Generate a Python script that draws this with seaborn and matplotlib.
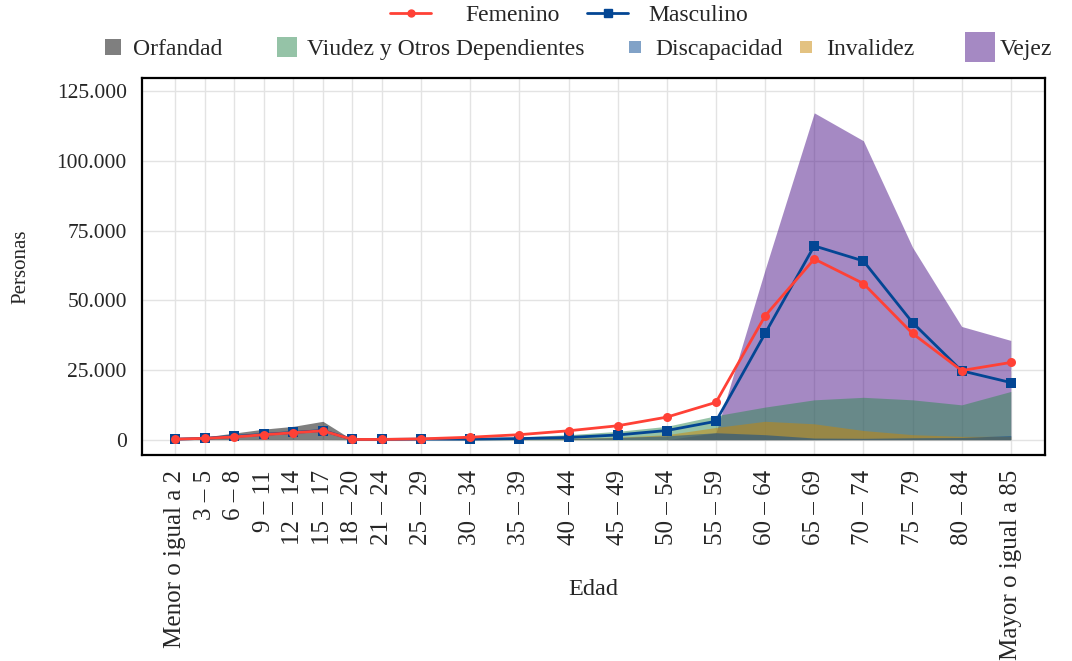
import numpy as np
import pandas as pd
import matplotlib
matplotlib.use("Agg")
import matplotlib.pyplot as plt
import seaborn as sns
from matplotlib.lines import Line2D
from matplotlib.ticker import FuncFormatter

# ------------ datos ------------
edad_inicio = [0, 3, 6, 9, 12, 15, 18, 21, 25, 30, 35, 40, 45, 50, 55, 60, 65, 70, 75, 80, 85]
edad_labels = ["Menor o igual a 2", "3 – 5", "6 – 8", "9 – 11", "12 – 14", "15 – 17",
               "18 – 20", "21 – 24", "25 – 29", "30 – 34", "35 – 39", "40 – 44",
               "45 – 49", "50 – 54", "55 – 59", "60 – 64", "65 – 69", "70 – 74",
               "75 – 79", "80 – 84", "Mayor o igual a 85"]

femenino = [200, 500, 1000, 1800, 2500, 3200, 100, 100, 300, 900, 1800, 3200, 5000,
            8100, 13400, 44400, 64800, 56000, 38100, 24800, 27700]
masculino = [200, 500, 1200, 1900, 2600, 3300, 100, 100, 200, 200, 400, 800, 1700,
             3300, 6600, 38100, 69500, 64100, 42000, 24700, 20500]

orfandad = [300, 1000, 2400, 3800, 4800, 6600, 0, 0, 0, 0, 0, 0, 0,
            0, 0, 0, 0, 0, 0, 0, 0]
viudez = [0, 0, 0, 0, 0, 0, 50, 100, 200, 500, 1000, 1800, 3000,
          4800, 8600, 11700, 14300, 15200, 14300, 12500, 17300]
discapacidad = [0, 0, 0, 0, 0, 0, 0, 0, 0, 100, 200, 400, 800,
                1400, 2500, 1800, 600, 500, 700, 800, 1500]
invalidez = [0, 0, 0, 0, 0, 0, 0, 0, 0, 100, 300, 500, 900,
             1800, 4400, 6600, 5700, 3300, 1800, 1200, 1200]
vejez = [0, 0, 0, 0, 0, 0, 0, 0, 0, 0, 0, 0, 0,
         0, 2500, 61000, 117200, 107200, 69000, 40600, 35600]

df_sexo = pd.DataFrame({"edad": edad_inicio * 2,
                        "personas": femenino + masculino,
                        "sexo": ["Femenino"] * len(edad_inicio) + ["Masculino"] * len(edad_inicio)})

# ------------ estilo ------------
sns.set_style("white")
plt.rcParams['font.family'] = ['Liberation Serif', 'DejaVu Serif']
plt.rcParams['font.size'] = 15

fig = plt.figure(figsize=(10.72, 6.61), dpi=100)
ax = fig.add_axes([0.1325, 0.312, 0.8425, 0.570])

ax.grid(True, color="#e3e3e3", linewidth=1)
ax.set_axisbelow(True)

# areas (superpuestas, no apiladas)
colores_area = {"Vejez": "#4d1589", "Viudez y Otros Dependientes": "#2d8951",
                "Invalidez": "#c98705", "Orfandad": "#000000", "Discapacidad": "#054791"}
areas = [("Vejez", vejez), ("Viudez y Otros Dependientes", viudez),
         ("Invalidez", invalidez), ("Orfandad", orfandad), ("Discapacidad", discapacidad)]
for nombre, valores in areas:
    ax.fill_between(edad_inicio, 0, valores, color=colores_area[nombre], alpha=0.5, linewidth=0)

# lineas por sexo
colores_sexo = {"Femenino": "#ff4136", "Masculino": "#034694"}
sns.lineplot(data=df_sexo[df_sexo.sexo == "Masculino"], x="edad", y="personas",
             color=colores_sexo["Masculino"], marker="s", markersize=7, markeredgewidth=0,
             linewidth=2, ax=ax, legend=False)
sns.lineplot(data=df_sexo[df_sexo.sexo == "Femenino"], x="edad", y="personas",
             color=colores_sexo["Femenino"], marker="o", markersize=6.5, markeredgewidth=0,
             linewidth=2, ax=ax, legend=False)

# ejes
ax.set_xlim(-3.4, 88.5)
ax.set_ylim(-5400, 129700)
ax.set_xticks(edad_inicio)
ax.set_xticklabels(edad_labels, rotation=90, fontsize=18)
ax.set_yticks(np.arange(0, 125001, 25000))
ax.yaxis.set_major_formatter(FuncFormatter(lambda v, p: f"{int(v):,}".replace(",", ".")))
ax.tick_params(axis="both", direction="out", length=7, width=1.5, color="black", pad=4)
ax.tick_params(axis="y", labelsize=15.5)
for s in ax.spines.values():
    s.set_color("black")
    s.set_linewidth(1.6)
ax.set_xlabel("Edad", fontsize=17.5)
ax.set_ylabel("Personas", fontsize=15)
ax.xaxis.set_label_coords(0.5, -0.33)
ax.yaxis.set_label_coords(-0.124, 0.5)

# leyendas (una entrada por caja, posiciones en px)
W, H = 1072, 661

def entrada(handle, texto, x_px, y_px, hl_px, pad_px):
    fs = 17
    px_em = fs * 100 / 72
    fig.legend([handle], [texto], loc="center left", bbox_to_anchor=(x_px / W, 1 - y_px / H),
               frameon=False, fontsize=fs, borderpad=0, borderaxespad=0,
               handlelength=hl_px / px_em, handletextpad=pad_px / px_em)

entrada(Line2D([0], [0], color=colores_sexo["Femenino"], marker="o", markersize=5, lw=2),
        "Femenino", 390, 15, 41, 34)
entrada(Line2D([0], [0], color=colores_sexo["Masculino"], marker="s", markersize=5.5, lw=2),
        "Masculino", 587, 15, 41, 20)

tamanos = {"Orfandad": 11, "Viudez y Otros Dependientes": 15, "Discapacidad": 8.5,
           "Invalidez": 8.5, "Vejez": 22}
centros = {"Orfandad": 113, "Viudez y Otros Dependientes": 287, "Discapacidad": 635,
           "Invalidez": 806, "Vejez": 980}
orden = ["Orfandad", "Viudez y Otros Dependientes", "Discapacidad", "Invalidez", "Vejez"]
for n in orden:
    h = Line2D([0], [0], color=colores_area[n], alpha=0.5, marker="s", lw=0,
               markersize=tamanos[n], markeredgewidth=0)
    entrada(h, n, centros[n] - 12, 49, 24, 8)

fig.savefig("out.png", dpi=100)
